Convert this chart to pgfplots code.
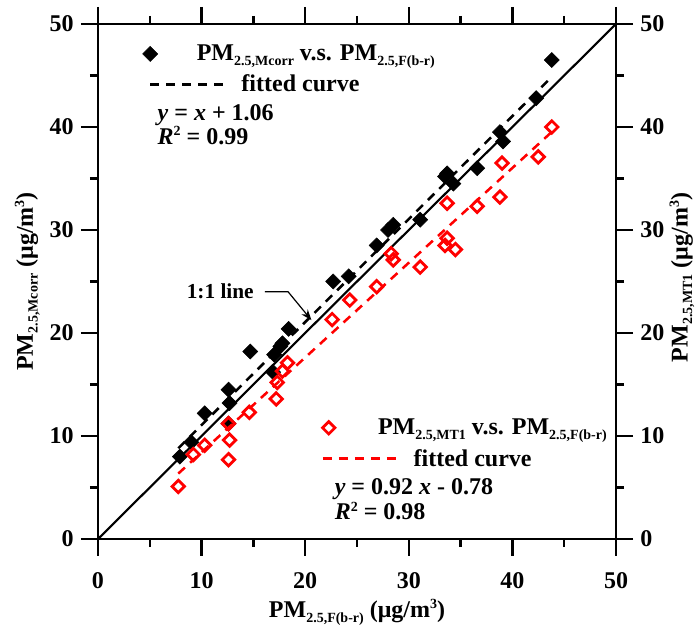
\documentclass[border=0pt]{standalone}
\usepackage{pgfplots}
\usepackage{pgfplotstable}
\pgfplotsset{compat=1.18}
\usepackage{fontspec}
\setmainfont{Liberation Serif}
\usetikzlibrary{arrows.meta}
\newcommand{\sub}[1]{\raisebox{-3.5pt}{\fontsize{10.5}{10.5}\selectfont #1}}
\newcommand{\super}[1]{\raisebox{6.5pt}{\fontsize{10.5}{10.5}\selectfont #1}}

\pgfplotstableread{
x y
7.9 8.0
9.0 9.4
10.3 12.2
12.6 11.2
12.6 14.5
12.7 13.2
14.7 18.2
16.9 16.2
17.0 17.9
17.6 18.7
17.8 19.0
18.4 20.4
22.7 25.0
24.2 25.5
26.9 28.5
28.0 30.0
28.5 30.5
31.1 31.0
33.5 35.2
33.7 35.5
34.3 34.5
36.6 36.0
38.8 39.5
39.1 38.6
42.3 42.8
43.8 46.5
}\mcorr

\pgfplotstableread{
x y
7.75 5.1
9.2 8.2
10.3 9.1
12.6 11.2
12.7 9.6
12.6 7.7
14.6 12.3
17.2 13.6
17.3 15.2
17.8 16.3
18.3 17.1
22.6 21.3
24.3 23.2
26.9 24.5
28.5 27.1
28.3 27.7
31.1 26.4
33.7 32.6
33.7 29.2
33.5 28.5
34.5 28.1
36.6 32.3
38.8 33.2
39.0 36.5
42.5 37.1
43.8 40.0
}\mtone

\pgfplotsset{
  common/.style={
    scale only axis, width=388.5pt, height=386.25pt,
    xmin=0, xmax=50, ymin=0, ymax=50,
    xtick={0,10,...,50}, ytick={0,10,...,50},
    minor xtick={5,15,...,45}, minor ytick={5,15,...,45},
    tick align=outside,
    major tick length=12.75pt, minor tick length=6pt,
    /pgf/number format/assume math mode=true,
    ticklabel style={font=\fontsize{18}{18}\selectfont\bfseries},
    clip=false,
    legend cell align=left,
  },
  fitdash/.style={dash pattern=on 6.75pt off 5.25pt, line width=1.9pt},
  markleg/.style={legend image code/.code={\path[draw=none] (-1pt,0pt) -- (55pt,0pt); \draw[##1] plot coordinates {(0pt,0pt)};}},
  lineleg/.style={legend image code/.code={\draw[##1] (0pt,0pt) -- (55pt,0pt);}},
  markleg2/.style={legend image code/.code={\path[draw=none] (-4.5pt,0pt) -- (54pt,0pt); \draw[##1] plot coordinates {(0pt,0pt)};}},
  lineleg2/.style={legend image code/.code={\draw[##1] (-4.5pt,0pt) -- (54pt,0pt);}},
}

\begin{document}
\begin{tikzpicture}
\begin{axis}[common, name=ax1,
  axis line style={line width=1.8pt},
  tick style={line width=1.8pt, black},
  xtick pos=both, ytick pos=both,
  xticklabel pos=bottom, yticklabel pos=left,
  xticklabel style={yshift=-9pt},
  yticklabel style={xshift=-2pt},
  every axis x label/.style={at={(rel axis cs:0.5,0)}, yshift=-55pt, anchor=center, font=\fontsize{18}{18}\selectfont\bfseries},
  every axis y label/.style={at={(rel axis cs:0,0.5)}, xshift=-53pt, rotate=90, anchor=center, font=\fontsize{18}{18}\selectfont\bfseries},
  xlabel={PM\sub{2.5,F(b-r)} (μg/m\super{3})},
  ylabel={PM\sub{2.5,Mcorr} (μg/m\super{3})},
  legend style={draw=none, fill=none, at={(axis cs:3.9,48.5)}, anchor=north west,
    font=\fontsize{18}{18}\selectfont\bfseries, row sep=5.25pt},
]
\addplot[black, line width=1.6pt, forget plot] coordinates {(0,0) (50,50)};
\addplot[only marks, mark=square*, mark size=4pt, mark options={rotate=45, fill=black, draw=black}, markleg]
  table[x=x, y=y] {\mcorr};
\addlegendentry{\hspace*{-23pt}PM\sub{2.5,Mcorr} v.s. PM\sub{2.5,F(b-r)}}
\addplot[black, fitdash, lineleg]
  coordinates {(7.75,8.81) (43.8,44.86)};
\addlegendentry{\hspace*{10.5pt}fitted curve}
\node[anchor=west, font=\fontsize{18}{18}\selectfont\bfseries] at (axis cs:5.3,41.2) {\textit{y} = \textit{x} + 1.06};
\node[anchor=west, font=\fontsize{18}{18}\selectfont\bfseries] at (axis cs:5.3,39.2) {\textit{R}\super{2} = 0.99};
\node[font=\fontsize{16}{16}\selectfont\bfseries] at (axis cs:11.8,24.1) {1:1 line};
\draw[line width=0.9pt, -{Stealth[length=8pt,width=6pt]}] (axis cs:16.1,24.0) -- (axis cs:18.35,24.0) -- (axis cs:20.6,21.25);
\end{axis}
\begin{axis}[common, name=ax2,
  axis line style={draw=none},
  tick style={draw=none},
  xticklabels={},
  ytick pos=right, yticklabel pos=right,
  yticklabel style={xshift=2pt},
  every axis y label/.style={at={(rel axis cs:1,0.5)}, xshift=49.5pt, yshift=3pt, rotate=90, anchor=center, font=\fontsize{18}{18}\selectfont\bfseries},
  ylabel={PM\sub{2.5,MT1} (μg/m\super{3})},
  legend style={draw=none, fill=none, at={(axis cs:21.16,12.2)}, anchor=north west,
    font=\fontsize{18}{18}\selectfont\bfseries, row sep=5.5pt},
]
\addplot[only marks, mark=square, mark size=3.3pt, mark options={rotate=45, draw=red, line width=2.1pt}, markleg2]
  table[x=x, y=y] {\mtone};
\addlegendentry{\hspace*{-20pt}PM\sub{2.5,MT1} v.s. PM\sub{2.5,F(b-r)}}
\addplot[red, fitdash, lineleg2]
  coordinates {(7.75,6.35) (43.8,39.52)};
\addlegendentry{\hspace*{6.75pt}fitted curve}
\node[anchor=west, font=\fontsize{18}{18}\selectfont\bfseries] at (axis cs:22.4,4.85) {\textit{y} = 0.92 \textit{x} - 0.78};
\node[anchor=west, font=\fontsize{18}{18}\selectfont\bfseries] at (axis cs:22.4,2.7) {\textit{R}\super{2} = 0.98};
\end{axis}
\pgfresetboundingbox
\path[use as bounding box] ([shift={(-73.5pt,-65.25pt)}]ax1.south west) rectangle ([shift={(60pt,18pt)}]ax1.north east);
\end{tikzpicture}
\end{document}
